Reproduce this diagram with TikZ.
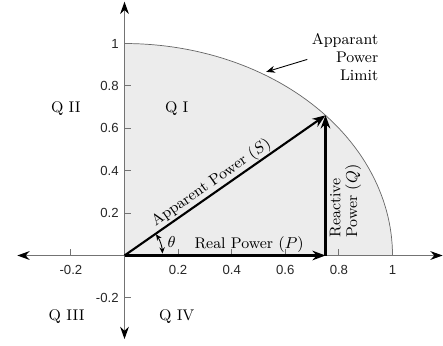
\documentclass[tikz,border=0pt]{standalone}
\usepackage{fontspec}
\newfontfamily\tickfont{Liberation Sans}
\usetikzlibrary{arrows.meta}

\begin{document}
\begin{tikzpicture}[x=5.36cm,y=4.24cm,font=\fontsize{8.8}{10.5}\selectfont,
 axis/.style={draw=black!55,line width=0.6pt,{Stealth[black,length=7pt,width=5pt]}-{Stealth[black,length=7pt,width=5pt]}},
 vec/.style={line width=1.2pt,-{Stealth[length=7.5pt,width=5.5pt]}},
 tick/.style={draw=black!55,line width=0.5pt},
 ticklbl/.style={font=\tickfont\fontsize{7.5}{9}\selectfont,text=black!85,inner sep=0pt},
 quad/.style={inner sep=0pt}]
\useasboundingbox (-0.4646,-0.4222) rectangle (1.1884,1.2052);
% limit region
\fill[gray!15] (0,0) -- plot[domain=0:90,samples=60] ({cos(\x)},{sin(\x)}) -- cycle;
\draw[black!60,line width=0.4pt] plot[domain=0:90,samples=60] ({cos(\x)},{sin(\x)});
% axes
\coordinate (O) at (0,0);
\coordinate (xl) at (-0.4,0); \coordinate (xr) at (1.187,0);
\coordinate (yb) at (0,-0.394); \coordinate (yt) at (0,1.197);
\draw[axis] (xl) -- (xr);
\draw[axis] (yb) -- (yt);
\foreach \t in {-0.2,0.2,0.4,0.6,0.8,1} {
  \draw[tick] (\t,0) -- ++(0,3.5pt);
  \node[ticklbl] (tx\t) at (\t,-0.068) {\t};
  \draw[tick] (0,\t) -- ++(3.5pt,0);
  \node[ticklbl,anchor=east] (ty\t) at (-0.0205,\t) {\t};
}
% quadrants
\node[quad] (q1) at (0.195,0.694) {Q I};
\node[quad] (q2) at (-0.219,0.694) {Q II};
\node[quad] (q3) at (-0.216,-0.289) {Q III};
\node[quad] (q4) at (0.195,-0.289) {Q IV};
% power triangle
\coordinate (P) at (0.75,0);
\coordinate (S) at (0.75,0.6614);
\draw[vec] (O) -- (P) node[pos=0.62,above,inner sep=1pt] {Real Power $(P)$};
\draw[vec] (P) -- (S);
\draw[vec] (O) -- (S) node[pos=0.46,sloped,above,inner sep=0.5pt] {Apparent Power $(S)$};
\node[rotate=90,align=left,anchor=north west,inner sep=0pt,
 font=\fontsize{8.8}{9.5}\selectfont] (qlbl) at (0.765,0.083) {Reactive\\Power $(Q)$};
% angle
\draw[line width=0.5pt,{Stealth[length=3.5pt,width=3pt]}-{Stealth[length=3.5pt,width=3pt]}]
 ([shift={(3:0.76cm)}]O) arc[start angle=3,end angle=34,radius=0.76cm];
\node[inner sep=0pt] (th) at (0.176,0.065) {$\theta$};
% limit label
\node[align=right,anchor=east,inner sep=0pt] (lim) at (0.948,0.936) {Apparant\\Power\\Limit};
\coordinate (limtail) at (0.682,0.925);
\coordinate (limhead) at (58.6:1.015);
\draw[line width=0.5pt,-{Stealth[length=5pt,width=4pt]}] (limtail) -- (limhead);
\end{tikzpicture}
\end{document}
